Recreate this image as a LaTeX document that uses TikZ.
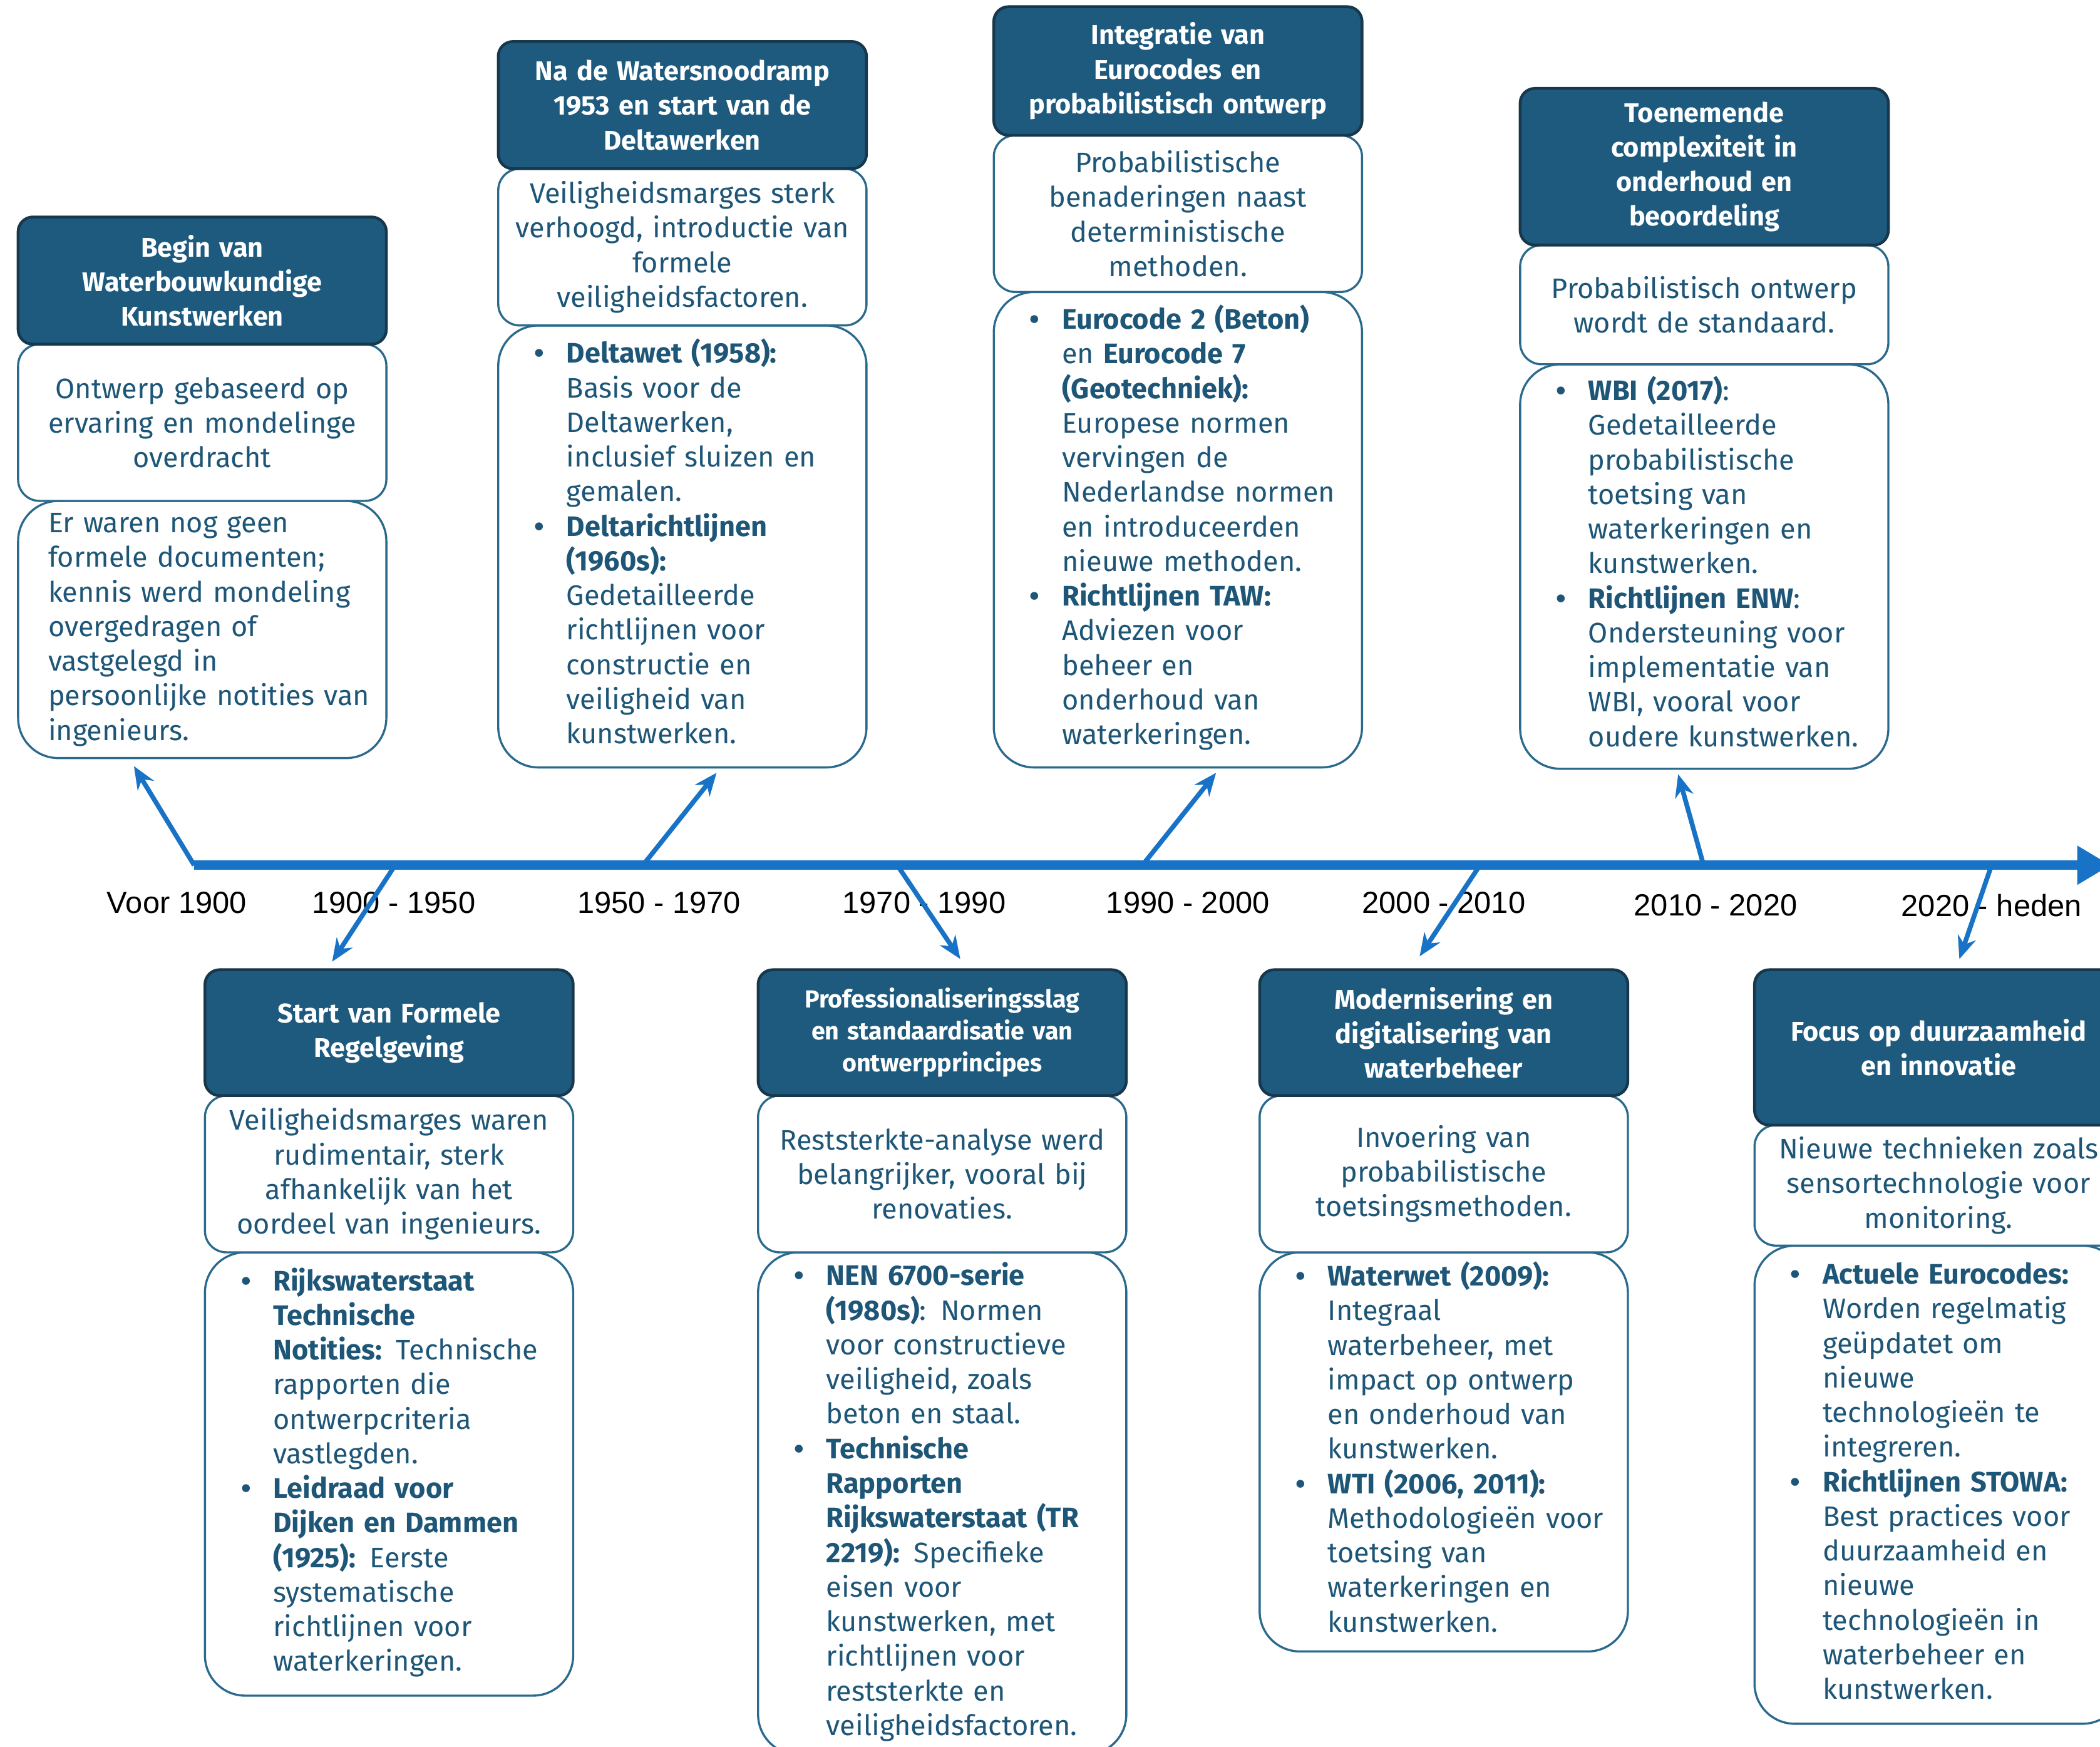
\documentclass[tikz,border=0pt]{standalone}
\usepackage{fontspec}
\setmainfont{Fira Sans}
\newfontfamily\labelfont{Liberation Sans}
\usetikzlibrary{arrows.meta}

\definecolor{hdrblue}{HTML}{1D5A7E}
\definecolor{hdrline}{HTML}{16374C}
\definecolor{boxline}{HTML}{2A6A8C}
\definecolor{txtblue}{HTML}{1E5677}
\definecolor{lineblue}{HTML}{1872C6}

\newcommand{\dotitem}{\textbf{\textbullet}}
\newenvironment{blist}{\begin{tabular}{@{}p{0.48cm}@{}l@{}}}{\end{tabular}}

\begin{document}
\begin{tikzpicture}[x=0.02cm, y=-0.02cm,
  hdr/.style={draw=hdrline, line width=1.2pt, fill=hdrblue, rounded corners=0.22cm,
    text width=5.2cm, inner xsep=0.15cm, inner ysep=2pt, align=center, text=white,
    font=\bfseries\fontsize{11.5}{14.7}\selectfont},
  mid/.style={draw=boxline, line width=0.9pt, fill=white, rounded corners=0.32cm,
    text width=5.3cm, inner xsep=0.1cm, inner ysep=2pt, align=center, text=txtblue,
    font=\fontsize{12}{14.7}\selectfont},
  lst/.style={draw=boxline, line width=0.9pt, fill=white, rounded corners=0.6cm,
    text width=4.42cm, inner xsep=0.54cm, inner ysep=2pt, align=left, text=txtblue,
    font=\fontsize{12}{14.7}\selectfont},
  yr/.style={font=\labelfont\fontsize{13}{15}\selectfont, text=black},
  conn/.style={draw=lineblue, line width=2pt, -{Stealth[length=0.34cm, width=0.28cm]}}]
\useasboundingbox (0, 0) rectangle (1568, 1304);
\fill [white] (0, 0) rectangle (1568, 1304);

% top row
\node [lst, minimum height=3.84cm, text width=4.6cm, inner xsep=0.45cm] (b1) at (151, 470) {\begin{tabular}{@{}l@{}}
Er waren nog geen\\
formele documenten;\\
kennis werd mondeling\\
overgedragen of\\
vastgelegd in\\
persoonlijke notities van\\
ingenieurs.
\end{tabular}};
\node [mid, minimum height=2.34cm] (m1) at (151, 315.5) {Ontwerp gebaseerd op\\ervaring en mondelinge\\overdracht};
\node [hdr, minimum height=1.9cm] (h1) at (151, 209.5) {Begin van\\Waterbouwkundige\\Kunstwerken};

\node [lst, minimum height=6.6cm] (b2) at (509.5, 408) {\begin{blist}
\dotitem & \textbf{Deltawet (1958):}\\
 & Basis voor de\\
 & Deltawerken,\\
 & inclusief sluizen en\\
 & gemalen.\\
\dotitem & \textbf{Deltarichtlijnen}\\
 & \textbf{(1960s):}\\
 & Gedetailleerde\\
 & richtlijnen voor\\
 & constructie en\\
 & veiligheid van\\
 & kunstwerken.
\end{blist}};
\node [mid, minimum height=2.34cm] (m2) at (509.5, 184.5) {Veiligheidsmarges sterk\\verhoogd, introductie van\\formele\\veiligheidsfactoren.};
\node [hdr, minimum height=1.9cm] (h2) at (509.5, 78.5) {Na de Watersnoodramp\\1953 en start van de\\Deltawerken};

\node [lst, minimum height=7.1cm] (b3) at (879.5, 395.5) {\begin{blist}
\dotitem & \textbf{Eurocode 2 (Beton)}\\
 & en \textbf{Eurocode 7}\\
 & \textbf{(Geotechniek):}\\
 & Europese normen\\
 & vervingen de\\
 & Nederlandse normen\\
 & en introduceerden\\
 & nieuwe methoden.\\
\dotitem & \textbf{Richtlijnen TAW:}\\
 & Adviezen voor\\
 & beheer en\\
 & onderhoud van\\
 & waterkeringen.
\end{blist}};
\node [mid, minimum height=2.34cm] (m3) at (879.5, 159.5) {Probabilistische\\benaderingen naast\\deterministische\\methoden.};
\node [hdr, minimum height=1.92cm] (h3) at (879.5, 53) {Integratie van\\Eurocodes en\\probabilistisch ontwerp};

\node [lst, minimum height=6.04cm] (b4) at (1272.5, 423) {\begin{blist}
\dotitem & \textbf{WBI (2017)}:\\
 & Gedetailleerde\\
 & probabilistische\\
 & toetsing van\\
 & waterkeringen en\\
 & kunstwerken.\\
\dotitem & \textbf{Richtlijnen ENW}:\\
 & Ondersteuning voor\\
 & implementatie van\\
 & WBI, vooral voor\\
 & oudere kunstwerken.
\end{blist}};
\node [mid, minimum height=1.78cm] (m4) at (1272.5, 227.5) {Probabilistisch ontwerp\\wordt de standaard.};
\node [hdr, minimum height=2.34cm] (h4) at (1272.5, 124.5) {Toenemende\\complexiteit in\\onderhoud en\\beoordeling};

% bottom row
\node [lst, minimum height=6.62cm] (b5) at (290.5, 1100.5) {\begin{blist}
\dotitem & \textbf{Rijkswaterstaat}\\
 & \textbf{Technische}\\
 & \textbf{Notities:} Technische\\
 & rapporten die\\
 & ontwerpcriteria\\
 & vastlegden.\\
\dotitem & \textbf{Leidraad voor}\\
 & \textbf{Dijken en Dammen}\\
 & \textbf{(1925):} Eerste\\
 & systematische\\
 & richtlijnen voor\\
 & waterkeringen.
\end{blist}};
\node [mid, minimum height=2.34cm] (m5) at (290.5, 876.5) {Veiligheidsmarges waren\\rudimentair, sterk\\afhankelijk van het\\oordeel van ingenieurs.};
\node [hdr, minimum height=1.88cm] (h5) at (290.5, 771) {Start van Formele\\Regelgeving};

\node [lst, minimum height=7.5cm] (b6) at (703.5, 1122.5) {\begin{blist}
\dotitem & \textbf{NEN 6700-serie}\\
 & \textbf{(1980s)}: Normen\\
 & voor constructieve\\
 & veiligheid, zoals\\
 & beton en staal.\\
\dotitem & \textbf{Technische}\\
 & \textbf{Rapporten}\\
 & \textbf{Rijkswaterstaat (TR}\\
 & \textbf{2219):} Specifieke\\
 & eisen voor\\
 & kunstwerken, met\\
 & richtlijnen voor\\
 & reststerkte en\\
 & veiligheidsfactoren.
\end{blist}};
\node [mid, minimum height=2.34cm] (m6) at (703.5, 876.5) {Reststerkte-analyse werd\\belangrijker, vooral bij\\renovaties.};
\node [hdr, minimum height=1.88cm, font=\bfseries\fontsize{10.5}{13.6}\selectfont] (h6) at (703.5, 771) {Professionaliseringsslag\\en standaardisatie van\\ontwerpprincipes};

\node [lst, minimum height=5.96cm] (b7) at (1078, 1084) {\begin{blist}
\dotitem & \textbf{Waterwet (2009):}\\
 & Integraal\\
 & waterbeheer, met\\
 & impact op ontwerp\\
 & en onderhoud van\\
 & kunstwerken.\\
\dotitem & \textbf{WTI (2006, 2011):}\\
 & Methodologieën voor\\
 & toetsing van\\
 & waterkeringen en\\
 & kunstwerken.
\end{blist}};
\node [mid, minimum height=2.34cm] (m7) at (1078, 876.5) {Invoering van\\probabilistische\\toetsingsmethoden.};
\node [hdr, minimum height=1.88cm] (h7) at (1078, 771) {Modernisering en\\digitalisering van\\waterbeheer};

\node [lst, minimum height=7.14cm] (b8) at (1447.5, 1108.5) {\begin{blist}
\dotitem & \textbf{Actuele Eurocodes:}\\
 & Worden regelmatig\\
 & geüpdatet om\\
 & nieuwe\\
 & technologieën te\\
 & integreren.\\
\dotitem & \textbf{Richtlijnen STOWA:}\\
 & Best practices voor\\
 & duurzaamheid en\\
 & nieuwe\\
 & technologieën in\\
 & waterbeheer en\\
 & kunstwerken.
\end{blist}};
\node [mid, minimum height=1.8cm] (m8) at (1447.5, 885) {Nieuwe technieken zoals\\sensortechnologie voor\\monitoring.};
\node [hdr, minimum height=2.32cm] (h8) at (1447.5, 782) {Focus op duurzaamheid\\en innovatie};

% timeline
\coordinate (t0) at (145, 646);
\coordinate (tend) at (1576, 646);
\draw [draw=lineblue, line width=4pt, -{Triangle[length=0.5cm, width=0.55cm]}] (t0) -- (tend);

\node [yr] (y1) at (132, 674) {Voor 1900};
\node [yr] (y2) at (294, 674) {1900 - 1950};
\node [yr] (y3) at (492, 674) {1950 - 1970};
\node [yr] (y4) at (690, 674) {1970 - 1990};
\node [yr] (y5) at (887, 674) {1990 - 2000};
\node [yr] (y6) at (1078, 674) {2000 - 2010};
\node [yr] (y7) at (1281, 676) {2010 - 2020};
\node [yr] (y8) at (1487, 676) {2020 - heden};

\coordinate (t1) at (145, 646);  \coordinate (p1) at (100, 572);
\coordinate (t2) at (295, 646);  \coordinate (p2) at (248, 718);
\coordinate (t3) at (480, 646);  \coordinate (p3) at (535, 577);
\coordinate (t4) at (670, 646);  \coordinate (p4) at (717, 716);
\coordinate (t5) at (853, 646);  \coordinate (p5) at (908, 577);
\coordinate (t6) at (1105, 646); \coordinate (p6) at (1060, 714);
\coordinate (t7) at (1272, 646); \coordinate (p7) at (1253, 578);
\coordinate (t8) at (1487, 646); \coordinate (p8) at (1463, 716);
\foreach \i in {1,...,8}
  \draw [conn] (t\i) -- (p\i);
\end{tikzpicture}
\end{document}
